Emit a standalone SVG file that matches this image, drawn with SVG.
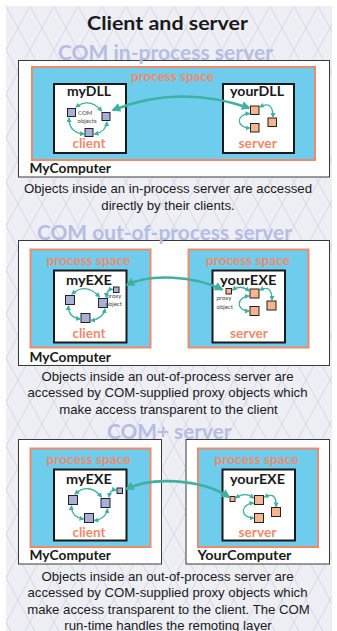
<svg xmlns="http://www.w3.org/2000/svg" width="337" height="631" viewBox="0 0 337 631">
  <defs>
    <pattern id="lattice" patternUnits="userSpaceOnUse" x="6" y="6" width="24" height="44">
      <rect width="24" height="44" fill="#eeeef5"/>
      <path d="M0,0 L24,44 M24,0 L0,44" stroke="#cfcfe2" stroke-width="0.8" fill="none"/>
    </pattern>
    <marker id="tip" viewBox="0 0 10 10" refX="8" refY="5" markerUnits="userSpaceOnUse" markerWidth="5" markerHeight="5" orient="auto-start-reverse">
      <path d="M0,0 L10,5 L0,10 z" fill="#3fb0a2"/>
    </marker>
    <marker id="bigtip" viewBox="0 0 10 10" refX="8" refY="5" markerUnits="userSpaceOnUse" markerWidth="9" markerHeight="9" orient="auto-start-reverse">
      <path d="M0,0 L10,5 L0,10 z" fill="#3fb0a2"/>
    </marker>
  </defs>
  <style>
    .computer{fill:#fefefe;stroke:#3a3a3a;stroke-width:1}
    .space{fill:#6ecdec;stroke:#f28a6a;stroke-width:2}
    .app{fill:#ffffff;stroke:#1a1a1a;stroke-width:2}
    .cobj{fill:#a8b0da;stroke:#222;stroke-width:1}
    .sobj{fill:#f6b48f;stroke:#222;stroke-width:1}
    .link{fill:none;stroke:#3fb0a2;stroke-width:1.3;marker-start:url(#tip);marker-end:url(#tip)}
    .bridge{fill:none;stroke:#3fb0a2;stroke-width:2.6;marker-start:url(#bigtip);marker-end:url(#bigtip)}
    .title{font-family:Lato,"Open Sans",sans-serif;font-weight:bold;font-size:19px;fill:#1a1a1a}
    .kind{font-family:Lato,"Open Sans",sans-serif;font-weight:bold;font-size:20px;fill:#b6bde2}
    .spacelbl{font-family:Lato,"Open Sans",sans-serif;font-weight:bold;font-size:13px;fill:#f2896b}
    .role{font-family:Lato,"Open Sans",sans-serif;font-weight:bold;font-size:13.5px;fill:#f2896b}
    .app-name{font-family:Lato,"Open Sans",sans-serif;font-weight:bold;font-size:13.5px;fill:#1a1a1a}
    .host{font-family:Lato,"Open Sans",sans-serif;font-weight:bold;font-size:13px;fill:#1a1a1a}
    .note{font-family:"Liberation Sans",Arial,sans-serif;font-size:13.2px;fill:#1a1a1a;text-anchor:middle}
    .tiny{font-family:Lato,"Open Sans",sans-serif;font-size:6px;fill:#444}
  </style>

  <!-- backdrop -->
  <rect x="6" y="6" width="326" height="625" fill="url(#lattice)"/>

  <text class="title" x="87" y="30" textLength="161" lengthAdjust="spacingAndGlyphs">Client and server</text>

  <!-- ===== in-process ===== -->
  <g id="inproc-mycomputer">
    <rect class="computer" x="18.5" y="60.5" width="311" height="116.5"/>
    <text class="host" x="29.5" y="173" textLength="81.5" lengthAdjust="spacingAndGlyphs">MyComputer</text>
  </g>
  <g id="inproc-space">
    <rect class="space" x="32" y="67" width="283" height="93"/>
    <text class="spacelbl" x="131" y="81" textLength="83" lengthAdjust="spacingAndGlyphs">process space</text>
  </g>
  <g id="inproc-mydll">
    <rect class="app" x="54" y="84" width="72" height="69"/>
    <text class="app-name" x="67" y="96" textLength="44" lengthAdjust="spacingAndGlyphs">myDLL</text>
    <text class="role" x="72.5" y="148" textLength="33" lengthAdjust="spacingAndGlyphs">client</text>
    <rect class="cobj" x="67.5" y="108.5" width="8" height="8"/>
    <rect class="cobj" x="102" y="112.5" width="8" height="8"/>
    <rect class="cobj" x="85" y="128.5" width="8" height="8"/>
    <text class="tiny" x="78" y="115" font-size="6.5">COM</text>
    <text class="tiny" x="77.5" y="123" font-size="5">objects</text>
  </g>
  <g id="inproc-yourdll">
    <rect class="app" x="223" y="84" width="71" height="69"/>
    <text class="app-name" x="230" y="96" textLength="54" lengthAdjust="spacingAndGlyphs">yourDLL</text>
    <text class="role" x="238.5" y="148" textLength="38.5" lengthAdjust="spacingAndGlyphs">server</text>
    <rect class="sobj" x="250.5" y="106" width="8.5" height="8.5"/>
    <rect class="sobj" x="268" y="118" width="8.5" height="8.5"/>
    <rect class="sobj" x="250.5" y="123.5" width="8.5" height="8.5"/>
  </g>

  <!-- ===== out-of-process ===== -->
  <g id="outproc-mycomputer">
    <rect class="computer" x="18.5" y="240.5" width="311" height="125"/>
    <text class="host" x="29.5" y="361.5" textLength="81.5" lengthAdjust="spacingAndGlyphs">MyComputer</text>
  </g>
  <g id="outproc-client-space">
    <rect class="space" x="30.5" y="249.5" width="120" height="98"/>
    <text class="spacelbl" x="46.5" y="265" textLength="84" lengthAdjust="spacingAndGlyphs">process space</text>
  </g>
  <g id="outproc-server-space">
    <rect class="space" x="188.5" y="249.5" width="120" height="98"/>
    <text class="spacelbl" x="206" y="265" textLength="84" lengthAdjust="spacingAndGlyphs">process space</text>
  </g>
  <g id="outproc-myexe">
    <rect class="app" x="54" y="270.5" width="72.5" height="72"/>
    <text class="app-name" x="66" y="285" textLength="46" lengthAdjust="spacingAndGlyphs">myEXE</text>
    <text class="role" x="72.5" y="338" textLength="33" lengthAdjust="spacingAndGlyphs">client</text>
    <rect class="cobj" x="65.5" y="295.5" width="9" height="9"/>
    <rect class="cobj" x="98.5" y="298.5" width="9" height="9"/>
    <rect class="cobj" x="81" y="313.5" width="9" height="9"/>
    <rect class="cobj" x="113.5" y="287" width="5.5" height="5.5"/>
    <text class="tiny" x="106.5" y="297.5" font-size="5.5">proxy</text>
    <text class="tiny" x="105.5" y="306" font-size="5.5">object</text>
  </g>
  <g id="outproc-yourexe">
    <rect class="app" x="212.5" y="270.5" width="72.5" height="72"/>
    <text class="app-name" x="220" y="285" textLength="56.5" lengthAdjust="spacingAndGlyphs">yourEXE</text>
    <text class="role" x="230" y="338" textLength="38" lengthAdjust="spacingAndGlyphs">server</text>
    <rect class="sobj" x="226" y="288.5" width="5.5" height="5.5"/>
    <text class="tiny" x="216.5" y="300" font-size="5.5">proxy</text>
    <text class="tiny" x="216.5" y="308.5" font-size="5.5">object</text>
    <rect class="sobj" x="250" y="289" width="9" height="9"/>
    <rect class="sobj" x="267" y="301" width="9" height="9"/>
    <rect class="sobj" x="250" y="306.5" width="9" height="9"/>
  </g>

  <!-- ===== COM+ ===== -->
  <g id="complus-mycomputer">
    <rect class="computer" x="18.5" y="439.5" width="143" height="124.5"/>
    <text class="host" x="29.5" y="560" textLength="81.5" lengthAdjust="spacingAndGlyphs">MyComputer</text>
  </g>
  <g id="complus-yourcomputer">
    <rect class="computer" x="186" y="439.5" width="143.5" height="124.5"/>
    <text class="host" x="197.5" y="560" textLength="94" lengthAdjust="spacingAndGlyphs">YourComputer</text>
  </g>
  <g id="complus-client-space">
    <rect class="space" x="30.5" y="448.5" width="120" height="98.5"/>
    <text class="spacelbl" x="46.5" y="463.5" textLength="84" lengthAdjust="spacingAndGlyphs">process space</text>
  </g>
  <g id="complus-server-space">
    <rect class="space" x="198" y="448.5" width="120" height="98.5"/>
    <text class="spacelbl" x="214.5" y="463.5" textLength="84" lengthAdjust="spacingAndGlyphs">process space</text>
  </g>
  <g id="complus-myexe">
    <rect class="app" x="54" y="469.5" width="72.5" height="71"/>
    <text class="app-name" x="66" y="484" textLength="46" lengthAdjust="spacingAndGlyphs">myEXE</text>
    <text class="role" x="72.5" y="536.5" textLength="33" lengthAdjust="spacingAndGlyphs">client</text>
    <rect class="cobj" x="68.5" y="495.5" width="9" height="9"/>
    <rect class="cobj" x="101" y="498.5" width="9" height="9"/>
    <rect class="cobj" x="84.5" y="513.5" width="9" height="9"/>
    <rect class="cobj" x="117" y="488" width="5.5" height="5.5"/>
  </g>
  <g id="complus-yourexe">
    <rect class="app" x="222.5" y="469.5" width="72.5" height="71"/>
    <text class="app-name" x="230" y="484" textLength="55" lengthAdjust="spacingAndGlyphs">yourEXE</text>
    <text class="role" x="238.5" y="536.5" textLength="38" lengthAdjust="spacingAndGlyphs">server</text>
    <rect class="sobj" x="230" y="496.5" width="5" height="5"/>
    <rect class="sobj" x="254.5" y="495.5" width="9" height="9"/>
    <rect class="sobj" x="271.5" y="507.5" width="9" height="9"/>
    <rect class="sobj" x="254.5" y="513.5" width="9" height="9"/>
  </g>

  <!-- connectors -->
  <g id="connectors">
    <!-- in-process -->
    <path class="link" d="M76,107 Q90,97 101.5,111"/>
    <path class="link" d="M107,122 Q106,132 94.5,134"/>
    <path class="link" d="M84,134 Q69,133 69,118"/>
    <path class="link" d="M260,107 Q273,100 273,117"/>
    <path class="link" d="M249.5,113.5 C236,114 236,128 249.5,128"/>
    <path class="bridge" d="M113,110 Q180,84 249,108"/>
    <!-- out-of-process -->
    <path class="link" d="M72,294 Q86,282 99.5,297"/>
    <path class="link" d="M105,309 Q103,319 91,320.5"/>
    <path class="link" d="M80,319 Q68,317 68.5,306"/>
    <path class="link" d="M106,297 Q107,289 112.5,289.5"/>
    <path class="link" d="M232.5,290 Q241,284 249,291"/>
    <path class="link" d="M260,290 Q272,284 272,300"/>
    <path class="link" d="M249,296 C236,297 236,311 249,311"/>
    <path class="bridge" d="M127,285 C150,273 195,276 222,289.5"/>
    <!-- COM+ -->
    <path class="link" d="M75,494 Q89,482 101.5,497"/>
    <path class="link" d="M107.5,509 Q106,519 94.5,520.5"/>
    <path class="link" d="M83.5,519 Q71,517 71.5,506"/>
    <path class="link" d="M109,497 Q110,489 116,490"/>
    <path class="link" d="M236,498 Q245,491 253.5,498"/>
    <path class="link" d="M264.5,497 Q277,491 276,506.5"/>
    <path class="link" d="M253.5,503 C240,504 240,518 253.5,518"/>
    <path class="bridge" d="M126.5,489 C150,477 200,478 229,497"/>
  </g>

  <!-- kind headings, drawn over the host outlines -->
  <text class="kind" x="58" y="59.5" textLength="215" lengthAdjust="spacingAndGlyphs">COM in-process server</text>
  <text class="kind" x="37" y="240" textLength="255" lengthAdjust="spacingAndGlyphs">COM out-of-process server</text>
  <text class="kind" x="107" y="438.5" textLength="124.5" lengthAdjust="spacingAndGlyphs">COM+ server</text>

  <!-- explanations -->
  <text class="note" x="168" y="193">Objects inside an in-process server are accessed</text>
  <text class="note" x="168" y="210">directly by their clients.</text>

  <text class="note" x="167.5" y="380.5">Objects inside an out-of-process server are</text>
  <text class="note" x="167.5" y="397">accessed by COM-supplied proxy objects which</text>
  <text class="note" x="168.5" y="413.5">make access transparent to the client</text>

  <text class="note" x="167.5" y="580.5">Objects inside an out-of-process server are</text>
  <text class="note" x="167.5" y="597">accessed by COM-supplied proxy objects which</text>
  <text class="note" x="168.5" y="613.5">make access transparent to the client. The COM</text>
  <text class="note" x="168" y="629.5">run-time handles the remoting layer</text>
</svg>
